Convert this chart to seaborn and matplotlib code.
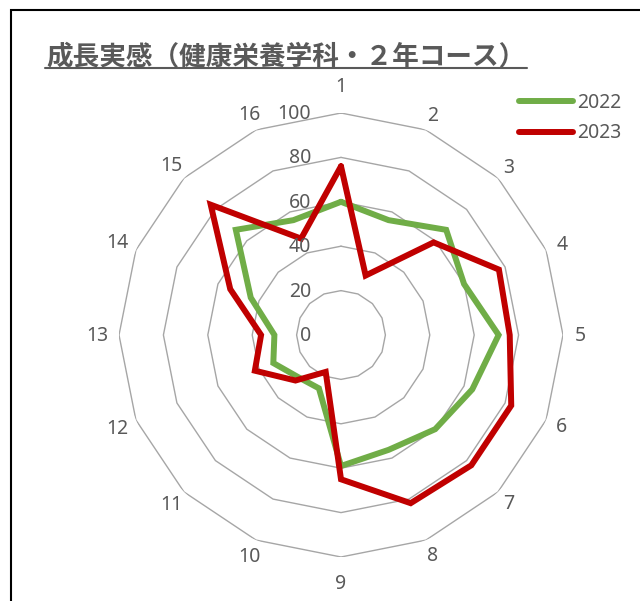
import numpy as np
import pandas as pd
import matplotlib
matplotlib.use("Agg")
import matplotlib.pyplot as plt
from matplotlib.lines import Line2D
import seaborn as sns

# Chart content
title = "成長実感（健康栄養学科・２年コース）"
categories = [str(i) for i in range(1, 17)]
years = ["2022", "2023"]
values_2022 = [60, 56, 67, 60, 71, 64, 60, 56, 59, 26, 27, 33, 30, 44, 67, 56]
values_2023 = [76, 29, 59, 77, 76, 83, 83, 82, 65, 18, 29, 42, 36, 54, 83, 47]
radial_ticks = [0, 20, 40, 60, 80, 100]
palette = {"2022": "#70AD47", "2023": "#C00000"}

TEXT = "#595959"
GRID = "#A6A6A6"

sns.set_theme(style="white")
plt.rcParams["font.family"] = ["Noto Sans", "Noto Sans CJK JP", "DejaVu Sans"]

W, H, DPI = 640, 601, 100
fig = plt.figure(figsize=(W / DPI, H / DPI), dpi=DPI)
fig.patch.set_facecolor("white")

# polar area: centre and outer radius in pixels
cx, cy, R = 341, 335, 222
ax = fig.add_axes([(cx - R) / W, (H - cy - R) / H, 2 * R / W, 2 * R / H],
                  projection="polar")
ax.set_theta_offset(np.pi / 2)
ax.set_theta_direction(-1)
ax.set_facecolor("none")
ax.grid(False)
ax.spines["polar"].set_visible(False)

n = len(categories)
angles = np.arange(n) * 2 * np.pi / n
closed = np.append(angles, 2 * np.pi)

# polygonal rings
for r in radial_ticks[1:]:
    ax.plot(closed, [r] * (n + 1), color=GRID, lw=1.0, zorder=1)

# long-form table for seaborn
rows = []
for year, vals in zip(years, [values_2022, values_2023]):
    vv = list(vals) + [vals[0]]
    for a, v in zip(closed, vv):
        rows.append({"theta": a, "value": v, "year": year})
df = pd.DataFrame(rows)

sns.lineplot(data=df, x="theta", y="value", hue="year", palette=palette,
             sort=False, estimator=None, linewidth=4.3, legend=False, ax=ax,
             zorder=3, solid_joinstyle="miter")
ax.set_xlabel("")
ax.set_ylabel("")
ax.set_ylim(0, 100)
ax.set_xticks([])
ax.set_yticks([])

# category labels around the outside
for a, lab in zip(angles, categories):
    s, c = np.sin(a), np.cos(a)
    off = 15 + 11.5 * abs(c) ** 30 + 2.7 * s ** 4 + 4 * (len(lab) - 1) * s ** 2
    k = off * 72 / DPI
    ax.annotate(lab, xy=(a, 100), xytext=(k * s, k * c - 0.7), textcoords="offset points",
                ha="center", va="center", fontsize=14, color=TEXT, zorder=4)

# value labels along the vertical axis
for r in radial_ticks:
    ax.annotate(str(r), xy=(0, r), xytext=(-30 * 72 / DPI, -0.7), textcoords="offset points",
                ha="right", va="center", fontsize=14, color=TEXT, zorder=4)

# title with underline
fig.text(46 / W, 1 - 64 / H, title, fontsize=19.2, color=TEXT, weight="bold",
         family=["Noto Sans CJK JP", "DejaVu Sans"], va="baseline", ha="left")
fig.add_artist(Line2D([45 / W, 527 / W], [1 - 67.5 / H, 1 - 67.5 / H],
                      color=TEXT, lw=1.5, transform=fig.transFigure))

# chart frame (left and top edges)
fig.add_artist(Line2D([11 / W, 11 / W, 1.0], [0.0, 1 - 9.5 / H, 1 - 9.5 / H],
                      color="black", lw=1.5, transform=fig.transFigure,
                      solid_joinstyle="miter"))

# legend
handles = [Line2D([], [], color=palette[y], lw=4.3, solid_capstyle="round") for y in years]
fig.legend(handles, years, loc="center left", bbox_to_anchor=(519 / W, 1 - 118 / H),
           frameon=False, fontsize=14, handlelength=2.8, handletextpad=0.2,
           labelspacing=0.55, borderpad=0, borderaxespad=0, labelcolor=TEXT)

fig.savefig("out.png", dpi=DPI, facecolor="white")
